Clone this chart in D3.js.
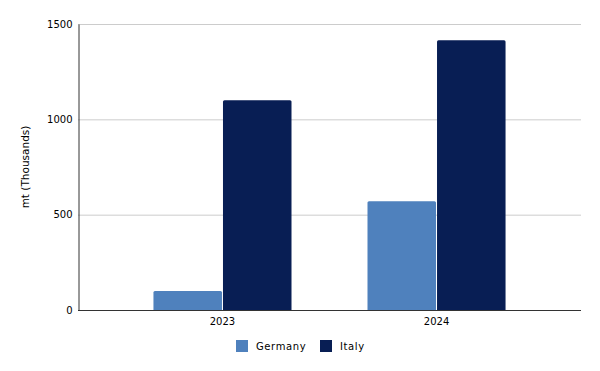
<!DOCTYPE html>
<html><head><meta charset="utf-8">
<script src="https://cdn.jsdelivr.net/npm/d3@7"></script>
<style>body{margin:0;background:#fff}svg{display:block}text{font-family:"DejaVu Sans",sans-serif}</style>
</head><body>
<svg id="c" width="600" height="371"></svg>
<script>
const categories = ["2023", "2024"];
const seriesNames = ["Germany", "Italy"];
const germany = [100, 570];
const italy = [1100, 1415];
const yTicks = [0, 500, 1000, 1500];
const colors = ["#4f81bd", "#081e54"];

const svg = d3.select("#c");
const L = 78, R = 581, T = 24, B = 310;
const x = d3.scaleBand().domain(categories).range([L, R]).paddingInner(0.355).paddingOuter(0.3525);
const y = d3.scaleLinear().domain([0, 1500]).range([B, T]);
const xs = d3.scaleBand().domain(seriesNames).range([0, x.bandwidth()]).paddingInner(0.0145);

// grid
svg.append("g").selectAll("line").data(yTicks.filter(d => d > 0)).join("line")
  .attr("x1", L).attr("x2", R).attr("y1", d => y(d) + 0.5).attr("y2", d => y(d) + 0.5)
  .attr("stroke", "#cccccc").attr("stroke-width", 1);

// y axis
const ya = svg.append("g").attr("transform", `translate(${L + 0.5},0)`)
  .call(d3.axisLeft(y).tickValues(yTicks).tickFormat(d3.format("d")).tickSize(0).tickPadding(6));
ya.select(".domain").attr("stroke", "#333");
ya.selectAll("text").attr("font-size", 10).attr("fill", "#000").attr("font-family", "DejaVu Sans");

// bars
const data = categories.map((c, i) => ({c, vals: [germany[i], italy[i]]}));
const g = svg.append("g");
data.forEach(d => {
  d.vals.forEach((v, j) => {
    const bx = x(d.c) + xs(seriesNames[j]);
    const bw = xs.bandwidth();
    const top = y(v), h = B - top, r = 1.5;
    g.append("path")
      .attr("d", `M${bx},${B} V${top + r} Q${bx},${top} ${bx + r},${top} H${bx + bw - r} Q${bx + bw},${top} ${bx + bw},${top + r} V${B} Z`)
      .attr("fill", colors[j]);
  });
});

// x axis
const xa = svg.append("g").attr("transform", `translate(0,${B + 0.5})`)
  .call(d3.axisBottom(x).tickSize(0).tickPadding(7));
xa.select(".domain").attr("stroke", "#333").attr("d", `M${L},0H${R}`);
xa.selectAll("text").attr("font-size", 10).attr("fill", "#000").attr("font-family", "DejaVu Sans");

// y label
svg.append("text").attr("transform", `translate(29,${(T + B) / 2}) rotate(-90)`)
  .attr("text-anchor", "middle").attr("font-size", 10.5).text("mt (Thousands)");

// legend
const legX = [236, 320];
seriesNames.forEach((s, j) => {
  svg.append("rect").attr("x", legX[j]).attr("y", 340).attr("width", 12).attr("height", 12).attr("fill", colors[j]);
  svg.append("text").attr("x", legX[j] + 20).attr("y", 349.5).attr("font-size", 10)
    .attr("letter-spacing", 0.6).text(s);
});
</script>
</body></html>
